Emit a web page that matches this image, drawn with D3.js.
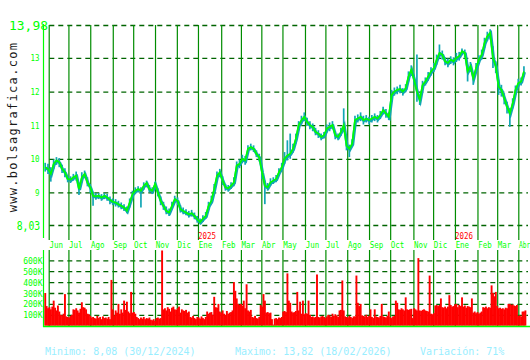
<!DOCTYPE html>
<html>
<head>
<meta charset="utf-8">
<script src="https://cdn.jsdelivr.net/npm/d3@7"></script>
<style>
  html, body { margin: 0; padding: 0; background: #ffffff; }
  svg { display: block; }
  text { font-family: "DejaVu Sans Mono", "Liberation Mono", monospace; }
</style>
</head>
<body>
<svg id="chart" width="530" height="360"></svg>
<script>
// ---------------- DATA ----------------
const priceStart = "2024-05-29";   // first price point; one point every 4 calendar days
const priceStepDays = 4;
const closes = [
  9.75,9.70,9.55,9.85,9.95,9.90,9.70,9.60,9.40,9.38,
  9.45,9.50,9.10,9.45,9.55,9.30,9.15,8.90,8.88,8.90,
  8.85,8.90,8.85,8.78,8.72,8.70,8.65,8.60,8.55,8.45,
  8.70,8.95,9.05,9.10,9.05,9.20,9.28,9.10,9.05,9.25,
  9.00,8.75,8.60,8.45,8.40,8.60,8.80,8.75,8.50,8.45,
  8.40,8.35,8.38,8.30,8.20,8.12,8.22,8.30,8.60,8.75,
  9.10,9.50,9.60,9.35,9.15,9.12,9.20,9.30,9.80,9.85,
  10.00,9.95,10.30,10.35,10.30,10.15,10.05,9.60,9.20,9.15,
  9.30,9.35,9.40,9.60,9.75,10.00,10.10,10.15,10.30,10.60,
  11.00,11.15,11.25,11.10,11.00,10.95,10.80,10.75,10.65,10.70,
  10.90,10.95,11.00,10.70,10.65,10.80,11.00,10.40,10.30,10.45,
  11.15,11.20,11.25,11.15,11.20,11.15,11.20,11.25,11.20,11.30,
  11.45,11.35,11.25,11.90,12.00,12.05,12.08,12.00,12.10,12.45,
  12.65,12.35,12.00,11.75,12.20,12.30,12.45,12.60,12.70,12.95,
  13.15,13.10,12.90,12.85,12.95,12.90,13.00,13.05,13.20,13.15,
  12.60,12.75,12.40,12.70,12.95,13.10,13.45,13.65,13.75,13.00,
  12.75,12.15,12.05,11.80,11.55,11.35,11.65,12.05,12.25,12.30,
  12.60
];
const highs = [
  9.88,9.85,9.75,9.98,10.05,10.02,9.82,9.72,9.50,9.48,
  9.55,9.62,9.25,9.60,9.65,9.45,9.25,9.02,8.98,8.98,
  8.95,8.98,8.95,8.88,8.82,8.80,8.75,8.70,8.65,8.58,
  8.82,9.05,9.15,9.18,9.15,9.30,9.35,9.22,9.15,9.32,
  9.12,8.88,8.72,8.58,8.52,8.72,8.90,8.85,8.62,8.55,
  8.50,8.45,8.48,8.40,8.30,8.22,8.32,8.42,8.72,8.90,
  9.25,9.62,9.70,9.48,9.25,9.22,9.30,9.45,9.92,9.98,
  10.12,10.08,10.40,10.45,10.40,10.25,10.15,9.75,9.35,9.28,
  9.42,9.45,9.52,9.72,9.88,10.20,10.55,10.75,10.45,10.75,
  11.12,11.28,11.38,11.22,11.12,11.05,10.92,10.85,10.75,10.80,
  11.02,11.08,11.12,10.82,10.75,10.92,11.50,10.55,10.42,10.58,
  11.28,11.32,11.38,11.28,11.30,11.25,11.30,11.35,11.30,11.42,
  11.55,11.48,11.38,12.05,12.12,12.15,12.20,12.10,12.22,12.60,
  12.78,12.50,13.10,11.90,12.32,12.42,12.58,12.72,12.85,13.10,
  13.40,13.22,13.02,12.98,13.05,13.02,13.15,13.18,13.28,13.25,
  12.80,12.88,12.55,12.85,13.08,13.25,13.60,13.78,13.85,13.35,
  12.90,12.35,12.20,11.95,11.70,11.50,11.80,12.18,12.38,12.42,
  12.75
];
const lows = [
  9.62,9.55,9.32,9.70,9.82,9.75,9.58,9.45,9.30,9.28,
  9.35,9.35,8.92,9.30,9.42,9.18,8.98,8.60,8.78,8.80,
  8.75,8.80,8.75,8.65,8.62,8.58,8.55,8.50,8.45,8.38,
  8.55,8.82,8.95,9.00,8.55,9.08,9.15,9.00,8.95,9.12,
  8.88,8.62,8.48,8.35,8.30,8.50,8.70,8.62,8.40,8.35,
  8.32,8.25,8.28,8.20,8.10,8.05,8.12,8.22,8.48,8.65,
  8.95,9.35,9.45,9.22,9.05,9.02,9.10,9.18,9.65,9.72,
  9.88,9.82,10.18,10.25,10.20,10.05,9.92,9.40,8.65,9.05,
  9.20,9.25,9.30,9.50,9.62,9.85,9.95,10.00,10.18,10.45,
  10.85,11.02,11.12,10.98,10.88,10.82,10.70,10.62,10.55,10.60,
  10.78,10.82,10.88,10.58,10.55,10.68,10.85,10.25,10.05,10.35,
  10.95,11.08,11.12,11.02,11.08,11.02,11.08,11.12,11.08,11.18,
  11.32,11.22,11.15,11.75,11.88,11.92,11.95,11.88,11.98,12.30,
  12.50,12.20,11.70,11.60,12.08,12.18,12.32,12.48,12.58,12.80,
  13.00,12.95,12.78,12.72,12.82,12.78,12.88,12.92,13.08,13.02,
  12.30,12.60,12.20,12.55,12.82,12.95,13.30,13.50,13.55,12.70,
  12.55,11.90,11.85,11.62,11.35,10.95,11.50,11.90,12.12,12.18,
  12.45
];

const volumeStart = "2024-05-29";  // one volume bar every 2 calendar days, values in thousands
const volumeStepDays = 2;
const volumesK = [
  300,180,160,170,150,175,230,165,140,185,
  130,100,95,110,290,85,80,75,90,100,
  150,145,160,140,120,155,215,170,165,150,
  110,105,90,75,80,70,65,90,70,80,
  60,85,70,75,65,80,60,420,150,95,
  140,120,200,110,150,120,230,145,220,130,
  115,310,120,125,110,80,70,60,75,65,
  80,60,70,65,75,55,50,60,45,70,
  75,65,70,690,150,160,140,170,155,130,
  165,175,150,145,160,175,120,150,140,135,
  145,120,130,80,75,90,70,60,80,75,
  65,85,70,60,80,130,110,120,125,100,
  265,170,165,200,130,120,140,110,100,135,
  110,120,125,140,400,320,250,200,190,200,
  185,230,160,380,140,130,145,80,75,90,
  70,65,80,190,175,290,230,120,125,115,
  120,60,10,65,70,60,75,70,80,130,
  135,125,480,230,210,130,120,125,135,310,
  140,220,110,230,105,115,110,230,100,80,
  85,75,80,470,80,75,85,90,80,70,
  85,100,95,80,110,90,105,95,80,140,
  145,415,140,85,80,75,90,80,70,85,
  85,460,210,180,200,95,90,85,100,80,
  90,150,80,70,150,85,80,75,90,200,
  85,80,75,90,130,80,70,85,90,230,
  210,150,145,160,150,140,260,150,145,150,
  155,70,160,150,140,620,140,135,145,150,
  140,135,130,460,110,105,115,185,190,180,
  190,250,170,165,175,160,175,280,190,175,
  180,195,200,170,190,180,260,175,185,165,
  180,175,170,250,120,130,115,125,110,120,
  130,170,165,175,160,170,165,370,300,270,
  310,180,160,165,155,160,150,165,160,200,
  200,190,195,185,180,190,90,95,85,130,
  130,140
];

const priceTicks = [9, 10, 11, 12, 13];
const priceExtremes = [8.03, 13.98];
const volumeTicksK = [100, 200, 300, 400, 500, 600];
const monthNames = ["Ene","Feb","Mar","Abr","May","Jun","Jul","Ago","Sep","Oct","Nov","Dic"];
const firstMonth = "2024-06-01";
const lastMonth = "2026-04-01";
const footerMin = "Minimo: 8,08 (30/12/2024)";
const footerMax = "Maximo: 13,82 (18/02/2026)";
const footerVar = "Variación: 71%";
const watermark = "www.bolsagrafica.com";

// ---------------- LAYOUT ----------------
const W = 530;
const svg = d3.select("#chart");
const parse = d3.timeParse("%Y-%m-%d");
const plotLeft = 47.3, plotRight = 518.3;  // x of first and last month gridline
const gridRight = 528;
const priceTop = 25, priceBottom = 225;
const volTop = 260.3, volBottom = 325.7;
const CHAR_W = 4.5;   // narrow bitmap-like label glyph width

const COL_LIME = "#00ff00";
const COL_GRID = "#006400";
const COL_VLINE = "#008c00";
const COL_TEAL = "#12a6b4";
const COL_CLOSE = "#00ff00";
const COL_RED = "#ff0000";
const COL_FOOT = "#99eeff";

const months = d3.timeMonth.range(parse(firstMonth), d3.timeMonth.offset(parse(lastMonth), 1))
  .map(m => { let d = m; while (d.getDay() === 0 || d.getDay() === 6) d = d3.timeDay.offset(d, 1); return d; });

const x = d3.scaleTime()
  .domain([parse(firstMonth), parse(lastMonth)])
  .range([plotLeft, plotRight]);

const y = d3.scaleLinear().domain([priceExtremes[0], priceExtremes[1]]).range([priceBottom, priceTop]);
const vy = d3.scaleLinear().domain([0, 600]).range([volBottom, volTop]);

const pStart = parse(priceStart);
const prices = closes.map((c, i) => ({
  date: d3.timeDay.offset(pStart, i * priceStepDays), close: c, high: highs[i], low: lows[i]
}));
const vStart = parse(volumeStart);
const vols = volumesK.map((v, i) => ({ date: d3.timeDay.offset(vStart, i * volumeStepDays), v }));

function narrow(sel) {
  sel.each(function (d) {
    const t = d3.select(this);
    const n = t.text().length;
    let len = n * CHAR_W;
    if (d instanceof Date) len = Math.min(len, W - 0.5 - x(d));
    t.attr("textLength", len).attr("lengthAdjust", "spacingAndGlyphs");
  });
}

// ---------------- WATERMARK ----------------
svg.append("text")
  .attr("transform", `translate(16.5,${(priceTop + priceBottom) / 2 + 2}) rotate(-90)`)
  .attr("text-anchor", "middle")
  .attr("font-size", 12)
  .attr("letter-spacing", 1.3)
  .attr("fill", "#1a1a1a")
  .text(watermark);

// ---------------- PRICE PANEL ----------------
const gridAxis = d3.axisRight(y).tickValues(priceExtremes.concat(priceTicks)).tickSize(gridRight - plotLeft).tickFormat("");
const gGrid = svg.append("g").attr("transform", `translate(${plotLeft},0)`).call(gridAxis);
gGrid.select(".domain").remove();
gGrid.selectAll("line").attr("stroke", COL_GRID).attr("stroke-width", 1.3).attr("stroke-dasharray", "5,4").attr("stroke-dashoffset", -2);

const monthAxis = d3.axisBottom(x).tickValues(months).tickSize(-(240 - priceTop)).tickPadding(1.5)
  .tickFormat(d => monthNames[d.getMonth()]);
const gMonths = svg.append("g").attr("transform", "translate(0,240)").call(monthAxis);
gMonths.select(".domain").remove();
gMonths.selectAll("line").attr("stroke", COL_VLINE).attr("stroke-width", 1.2);
gMonths.selectAll("text").attr("text-anchor", "start").attr("x", 0.2).attr("font-size", 9.5)
  .attr("fill", COL_LIME).attr("font-family", "DejaVu Sans Mono").call(narrow);

svg.append("g").selectAll("text")
  .data(months.filter(d => d.getMonth() === 0))
  .join("text")
  .attr("x", d => x(d))
  .attr("y", 238.5)
  .attr("font-size", 9)
  .attr("fill", COL_RED)
  .text(d => d.getFullYear())
  .call(narrow);

const yAxis = d3.axisLeft(y).tickValues(priceTicks).tickSize(0).tickPadding(0).tickFormat(d3.format("d"));
const gY = svg.append("g").attr("transform", "translate(39.5,0)").call(yAxis);
gY.select(".domain").remove();
gY.selectAll("text").attr("font-size", 9.5).attr("fill", COL_LIME).attr("font-family", "DejaVu Sans Mono").call(narrow);

svg.append("g").selectAll("text")
  .data(priceExtremes)
  .join("text")
  .attr("x", 28.5)
  .attr("y", d => y(d) + 5)
  .attr("text-anchor", "middle")
  .attr("font-size", 13)
  .attr("fill", COL_LIME)
  .text(d => d3.format(".2f")(d).replace(".", ","))
  .attr("textLength", d => d >= 10 ? 39 : 23.5)
  .attr("lengthAdjust", "spacingAndGlyphs");

svg.append("line").attr("x1", 43.5).attr("x2", 43.5).attr("y1", priceTop - 1).attr("y2", 238)
  .attr("stroke", COL_LIME).attr("stroke-width", 1.2);

// teal band under the close line
svg.append("path")
  .datum(prices)
  .attr("fill", "none")
  .attr("stroke", COL_TEAL)
  .attr("stroke-width", 3)
  .attr("d", d3.line().x(d => x(d.date) + 0.6).y(d => y(d.close) + 0.8));

// high-low bars
svg.append("g").selectAll("line")
  .data(prices)
  .join("line")
  .attr("x1", d => x(d.date)).attr("x2", d => x(d.date))
  .attr("y1", d => y(d.high)).attr("y2", d => y(d.low))
  .attr("stroke", COL_TEAL).attr("stroke-width", 1.7);

// close line
svg.append("path")
  .datum(prices)
  .attr("fill", "none")
  .attr("stroke", COL_CLOSE)
  .attr("stroke-width", 1.7)
  .attr("d", d3.line().x(d => x(d.date)).y(d => y(d.close)));

// ---------------- VOLUME PANEL ----------------
const vGridAxis = d3.axisRight(vy).tickValues(volumeTicksK).tickSize(gridRight - plotLeft).tickFormat("");
const gVGrid = svg.append("g").attr("transform", `translate(${plotLeft},0)`).call(vGridAxis);
gVGrid.select(".domain").remove();
gVGrid.selectAll("line").attr("stroke", COL_GRID).attr("stroke-width", 1.3).attr("stroke-dasharray", "5,4").attr("stroke-dashoffset", -2);

const vMonthAxis = d3.axisBottom(x).tickValues(months).tickSize(-(326 - 250)).tickFormat("");
const gVMonths = svg.append("g").attr("transform", "translate(0,326)").call(vMonthAxis);
gVMonths.select(".domain").remove();
gVMonths.selectAll("line").attr("stroke", COL_VLINE).attr("stroke-width", 1.2);

const vAxis = d3.axisLeft(vy).tickValues(volumeTicksK).tickSize(0).tickPadding(0).tickFormat(d => d + "K");
const gV = svg.append("g").attr("transform", "translate(42.5,0)").call(vAxis);
gV.select(".domain").remove();
gV.selectAll("text").attr("font-size", 9.5).attr("fill", COL_LIME).attr("font-family", "DejaVu Sans Mono")
  .each(function () { d3.select(this).attr("textLength", 19.3).attr("lengthAdjust", "spacingAndGlyphs"); });

svg.append("g").selectAll("rect")
  .data(vols)
  .join("rect")
  .attr("x", d => x(d.date) - 0.9)
  .attr("width", 1.9)
  .attr("y", d => vy(d.v))
  .attr("height", d => vy(0) - vy(d.v))
  .attr("fill", COL_RED);

svg.append("line").attr("x1", 43.5).attr("x2", 43.5).attr("y1", 250).attr("y2", 327)
  .attr("stroke", COL_LIME).attr("stroke-width", 1.2);
svg.append("line").attr("x1", 43).attr("x2", W).attr("y1", 326.5).attr("y2", 326.5)
  .attr("stroke", COL_LIME).attr("stroke-width", 1.5);

// ---------------- FOOTER ----------------
const footer = svg.append("g").attr("font-size", 10).attr("fill", COL_FOOT);
footer.append("text").attr("x", 45).attr("y", 355).text(footerMin);
footer.append("text").attr("x", 235).attr("y", 355).text(footerMax);
footer.append("text").attr("x", 420).attr("y", 355).text(footerVar);
</script>
</body>
</html>
